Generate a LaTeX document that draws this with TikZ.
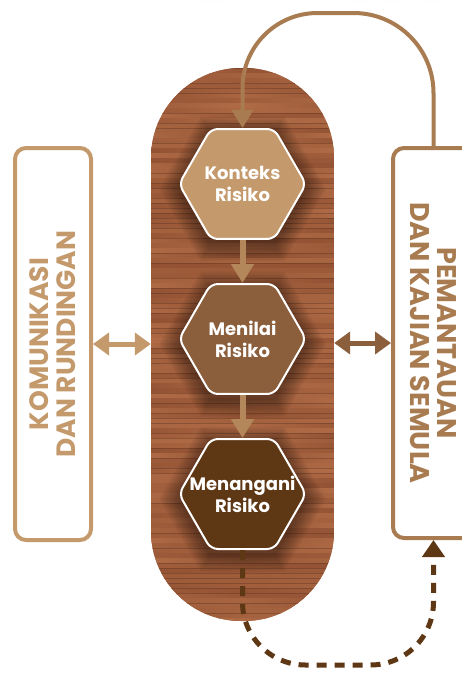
\documentclass[tikz,border=0pt]{standalone}
\usepackage{fontspec}
\setmainfont{Poppins}[BoldFont={Poppins Bold}]
\usetikzlibrary{shapes.geometric,arrows.meta}
\definecolor{ctan}{HTML}{C49A6C}
\definecolor{cloop}{HTML}{A97B50}
\definecolor{cmid}{HTML}{8B5E3C}
\definecolor{cdark}{HTML}{5E3715}
\definecolor{carrow}{HTML}{B3875A}
\definecolor{cwm}{HTML}{F8F5F0}
\definecolor{woodL}{HTML}{B8724B}
\definecolor{woodD}{HTML}{85472B}
\definecolor{woodM}{HTML}{9E5A39}
\begin{document}
\begin{tikzpicture}[x=1pt,y=1pt,
  sidebox/.style={draw, line width=4pt, rounded corners=11pt, inner sep=0pt, align=center},
  hex/.style={regular polygon, regular polygon sides=6, minimum size=127pt, inner sep=0pt,
    draw=white, line width=2pt, rounded corners=7pt, text=white, align=center,
    font=\bfseries\fontsize{18}{22}\selectfont},
  flow/.style={line width=6pt, color=carrow, -{Triangle[width=22pt,length=19pt]}},
  dbl/.style={line width=5pt, {Triangle[width=22pt,length=16pt]}-{Triangle[width=22pt,length=16pt]}},
  loopline/.style={line width=4pt, color=cloop, -{Triangle[width=21pt,length=18pt]}},
  dashloop/.style={line width=5pt, color=cdark, dash pattern=on 10pt off 8pt,
    -{Triangle[width=22pt,length=17pt]}}
]
\useasboundingbox (0,0) rectangle (462,-675);
\fill[white] (0,0) rectangle (462,-675);
% faint watermark
\fill[cwm] (193,0) -- (230,0) -- (213,32) -- (240,48) -- (236,66) -- (180,43) -- cycle;
\fill[cwm] (347,0) -- (370,0) -- (305,140) -- (282,140) -- cycle;
\fill[cwm] (380,0) -- (402,0) -- (412,137) -- (388,137) -- cycle;
\fill[cwm] (420,0) -- (442,0) -- (462,50) -- (462,125) -- cycle;
% wooden capsule
\begin{scope}
\clip[rounded corners=90pt] (151,-68) rectangle (334,-621);
\fill[woodM] (151,-68) rectangle (334,-621);
\pgfmathsetseed{7}
\foreach \yy in {68,73,...,620} {
  \pgfmathtruncatemacro\pa{25+60*rnd}
  \pgfmathtruncatemacro\pb{25+60*rnd}
  \pgfmathtruncatemacro\pc{25+60*rnd}
  \shade[left color=woodL!\pa!woodD, right color=woodL!\pb!woodD, middle color=woodL!\pc!woodD]
    (151,-\yy) rectangle (334,-\yy-5);
  \pgfmathtruncatemacro\ln{100*rnd}
  \ifnum\ln<55
    \draw[woodD!60!black, line width=0.8pt, opacity=0.35] (151,-\yy) -- (334,-\yy);
  \fi
}
\foreach \cy in {184,339,494} {
  \foreach \s in {1,...,10} {
    \pgfmathsetmacro\rr{63.5+2*\s}
    \fill[black, opacity=0.045, shift={(242.5,-\cy-5)}]
      (0:\rr) -- (60:\rr) -- (120:\rr) -- (180:\rr) -- (240:\rr) -- (300:\rr) -- cycle;
  }
}
\end{scope}
\node[minimum width=183pt, minimum height=553pt, inner sep=0pt] (cap) at (242.5,-344.5) {};
% hexagon steps
\node[hex, fill=ctan] (k) at (242.5,-184) {\makebox[0pt]{Konteks}\\\makebox[0pt]{Risiko}};
\node[hex, fill=cmid] (m) at (242.5,-339) {\makebox[0pt]{Menilai}\\\makebox[0pt]{Risiko}};
\node[hex, fill=cdark] (t) at (242.5,-494) {\makebox[0pt]{Menangani}\\\makebox[0pt]{Risiko}};
% side boxes
\node[sidebox, draw=ctan, text=ctan, rotate=90, minimum width=392pt, minimum height=76pt,
  font=\bfseries\fontsize{26.5}{27}\selectfont]
  (lbox) at (53,-344) {KOMUNIKASI\\DAN RUNDINGAN};
\node[sidebox, draw=cloop, text=cloop, rotate=-90, minimum width=390pt, minimum height=81pt,
  font=\bfseries\fontsize{27}{27}\selectfont]
  (rbox) at (433.5,-343) {PEMANTAUAN\\DAN KAJIAN SEMULA};
% connectors
\draw[flow] (k.south) -- (m.north);
\draw[flow] (m.south) -- (t.north);
\draw[dbl, color=ctan] (lbox.south) -- (lbox.south -| cap.west);
\draw[dbl, color=cmid] (cap.east |- rbox.south) -- (rbox.south);
\draw[loopline] (rbox.west) -- ++(0,53) arc[start angle=0,end angle=90,radius=80]
  -- ++(-36,0) arc[start angle=90,end angle=180,radius=75] -- (k.north);
\draw[dashloop] (t.south) -- ++(0,-52) arc[start angle=180,end angle=270,radius=63]
  -- ++(65,0) arc[start angle=270,end angle=360,radius=63] -- (rbox.east);
\end{tikzpicture}
\end{document}
